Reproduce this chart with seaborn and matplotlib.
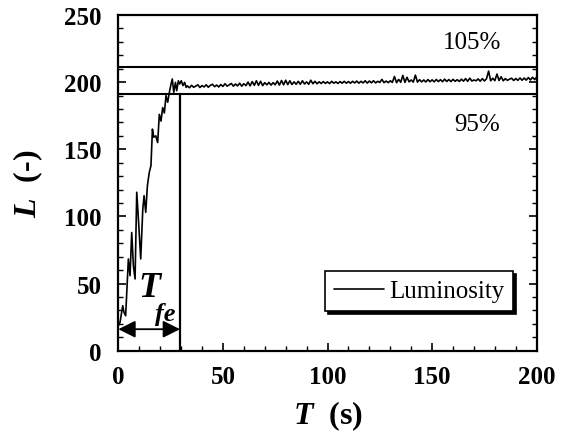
import matplotlib
matplotlib.use("Agg")
import matplotlib.pyplot as plt
from matplotlib.ticker import MultipleLocator
import numpy as np
import pandas as pd
import seaborn as sns

# ---- data -------------------------------------------------------------
# start-up transient (irregular sampling)
t_rise = [0.0, 0.8, 2.1, 2.7, 3.5, 4.8, 5.6, 6.4, 7.2, 8.0, 8.8, 9.6, 10.7,
          11.7, 12.3, 13.1, 13.9, 14.8, 15.6, 16.3, 16.9, 17.9, 18.8, 19.6,
          20.4, 21.2, 22.0, 22.8, 23.6, 24.4, 25.2, 25.8, 26.5, 27.3, 27.9,
          28.7, 29.3, 30.1, 30.9, 31.7, 32.4]
l_rise = [18.6, 21.0, 33.5, 28.6, 26.0, 68.3, 55.8, 88.0, 63.3, 53.4, 118.0,
          98.0, 68.3, 105.5, 115.4, 103.0, 122.9, 132.8, 137.8, 165.0, 159.0,
          160.0, 155.0, 176.0, 171.0, 181.0, 177.0, 190.0, 185.0, 192.4,
          198.6, 202.3, 192.4, 199.8, 193.6, 201.0, 198.6, 201.0, 197.4,
          199.8, 196.1]

# quasi-steady part, one sample per second from 33 s to 200 s
t_steady = list(range(33, 201))
l_steady = [
    197.2, 195.8, 197.6, 196.2, 197.0, 198.0, 196.0, 197.4, 196.4, 198.0,
    196.2, 197.6, 198.4, 196.6, 197.8, 196.4, 198.2, 196.8, 198.8, 197.0,
    198.0, 199.0, 197.0, 198.6, 197.2, 199.2, 197.0, 198.8, 197.4, 200.0,
    197.2, 200.4, 197.6, 201.0, 197.6, 200.6, 197.4, 199.6, 198.0, 199.8,
    197.8, 199.6, 198.0, 200.8, 197.8, 201.2, 198.0, 201.4, 198.2, 201.0,
    198.2, 200.2, 198.4, 200.6, 198.4, 201.0, 198.6, 200.2, 198.4, 201.4,
    198.8, 200.6, 198.8, 200.2, 199.0, 200.4, 199.0, 200.2, 198.9, 200.6,
    199.2, 200.2, 199.0, 200.4, 199.2, 200.6, 199.2, 200.4, 199.2, 200.6,
    199.4, 200.8, 199.2, 200.6, 199.4, 201.0, 199.3, 200.8, 199.5, 201.0,
    199.4, 200.6, 199.8, 202.0, 199.6, 200.8, 199.6, 201.0, 199.8, 204.2,
    199.6, 202.0, 199.9, 205.0, 199.8, 203.6, 200.2, 201.6, 200.0, 205.2,
    200.0, 201.8, 200.2, 201.6, 200.1, 201.9, 200.3, 201.7, 200.2, 202.0,
    200.4, 201.8, 200.3, 202.2, 200.5, 201.9, 200.4, 202.1, 200.6, 201.8,
    200.5, 202.2, 200.7, 202.6, 200.6, 203.0, 200.8, 201.6, 201.0, 202.4,
    200.7, 202.6, 200.9, 202.5, 208.2, 201.0, 202.9, 201.1, 206.0, 201.2,
    204.0, 201.0, 202.6, 201.3, 202.2, 202.9, 201.2, 202.7, 201.3, 203.1,
    201.4, 203.0, 201.5, 203.4, 201.6, 203.6, 201.9, 203.8,
]

steady_level = 201.5     # reference luminosity for the +/-5 % band
band_pct = [105, 95]
t_fe = 29.5              # time to enter the 95 % band (s)
arrow_level = 16.0

x_ticks = [0, 50, 100, 150, 200]
y_ticks = [0, 50, 100, 150, 200, 250]

df = pd.DataFrame({"T": t_rise + t_steady, "L": l_rise + l_steady})

# ---- style ------------------------------------------------------------
sns.set_theme(style="ticks")
plt.rcParams["font.family"] = ["Liberation Serif", "DejaVu Serif"]
plt.rcParams["text.color"] = "black"
plt.rcParams["axes.labelcolor"] = "black"
plt.rcParams["xtick.color"] = "black"
plt.rcParams["ytick.color"] = "black"
plt.rcParams["mathtext.fontset"] = "custom"
plt.rcParams["mathtext.rm"] = "Liberation Serif"
plt.rcParams["mathtext.it"] = "Liberation Serif:italic"
plt.rcParams["mathtext.bf"] = "Liberation Serif:bold"
plt.rcParams["mathtext.bfit"] = "Liberation Serif:italic:bold"

fig, ax = plt.subplots(figsize=(5.64, 4.39), dpi=100)
fig.subplots_adjust(left=0.2098, right=0.9516, bottom=0.1989, top=0.9636)

sns.lineplot(data=df, x="T", y="L", ax=ax, color="black", lw=1.2,
             label="Luminosity", estimator=None, sort=False)

upper = steady_level * band_pct[0] / 100
lower = steady_level * band_pct[1] / 100
ax.axhline(upper, color="black", lw=1.5)
ax.axhline(lower, color="black", lw=1.5)
ax.plot([t_fe, t_fe], [0, lower], color="black", lw=1.6)

ax.annotate("", xy=(0, arrow_level), xytext=(t_fe, arrow_level),
            arrowprops=dict(arrowstyle="<|-|>", color="black", lw=1.3,
                            mutation_scale=26, shrinkA=0, shrinkB=0))

ax.text(168.9, 229.6, f"{band_pct[0]}%", fontsize=18, ha="center", va="center")
ax.text(171.7, 168.5, f"{band_pct[1]}%", fontsize=18, ha="center", va="center")

ax.text(14.7, 47.0, "T", fontsize=26, fontweight="bold", fontstyle="italic",
        ha="center", va="center")
ax.text(22.3, 27.5, "fe", fontsize=19, fontweight="bold", fontstyle="italic",
        ha="center", va="center")

ax.set_xlim(0, 200)
ax.set_ylim(0, 250)
ax.set_xticks(x_ticks)
ax.set_yticks(y_ticks)
ax.xaxis.set_minor_locator(MultipleLocator(10))
ax.yaxis.set_minor_locator(MultipleLocator(10))
ax.tick_params(which="both", direction="in", right=True, top=False,
               colors="black")
ax.tick_params(which="major", length=6, width=1.2)
ax.tick_params(which="minor", length=3.5, width=1.0)
ax.tick_params(axis="x", which="major", pad=10)
ax.tick_params(axis="y", which="major", pad=12)
for lab in ax.get_xticklabels() + ax.get_yticklabels():
    lab.set_fontsize(18)
    lab.set_fontweight("bold")

for sp in ax.spines.values():
    sp.set_linewidth(1.6)
    sp.set_color("black")

ax.set_xlabel(r"$\mathbfit{T}$  (s)", fontsize=23, fontweight="bold",
              labelpad=8)
ax.set_ylabel(r"$\mathbfit{L}$  (-)", fontsize=23, fontweight="bold",
              labelpad=14)

leg = ax.legend(loc="lower right", bbox_to_anchor=(0.943, 0.118),
                borderaxespad=0, fontsize=18, frameon=True, fancybox=False,
                framealpha=1, edgecolor="black", handlelength=2.0,
                handletextpad=0.2, borderpad=0.35,
                shadow={"ox": 2, "oy": -2, "color": "black", "alpha": 1.0})
leg.get_frame().set_linewidth(1.2)

fig.savefig("out.png", dpi=100)
